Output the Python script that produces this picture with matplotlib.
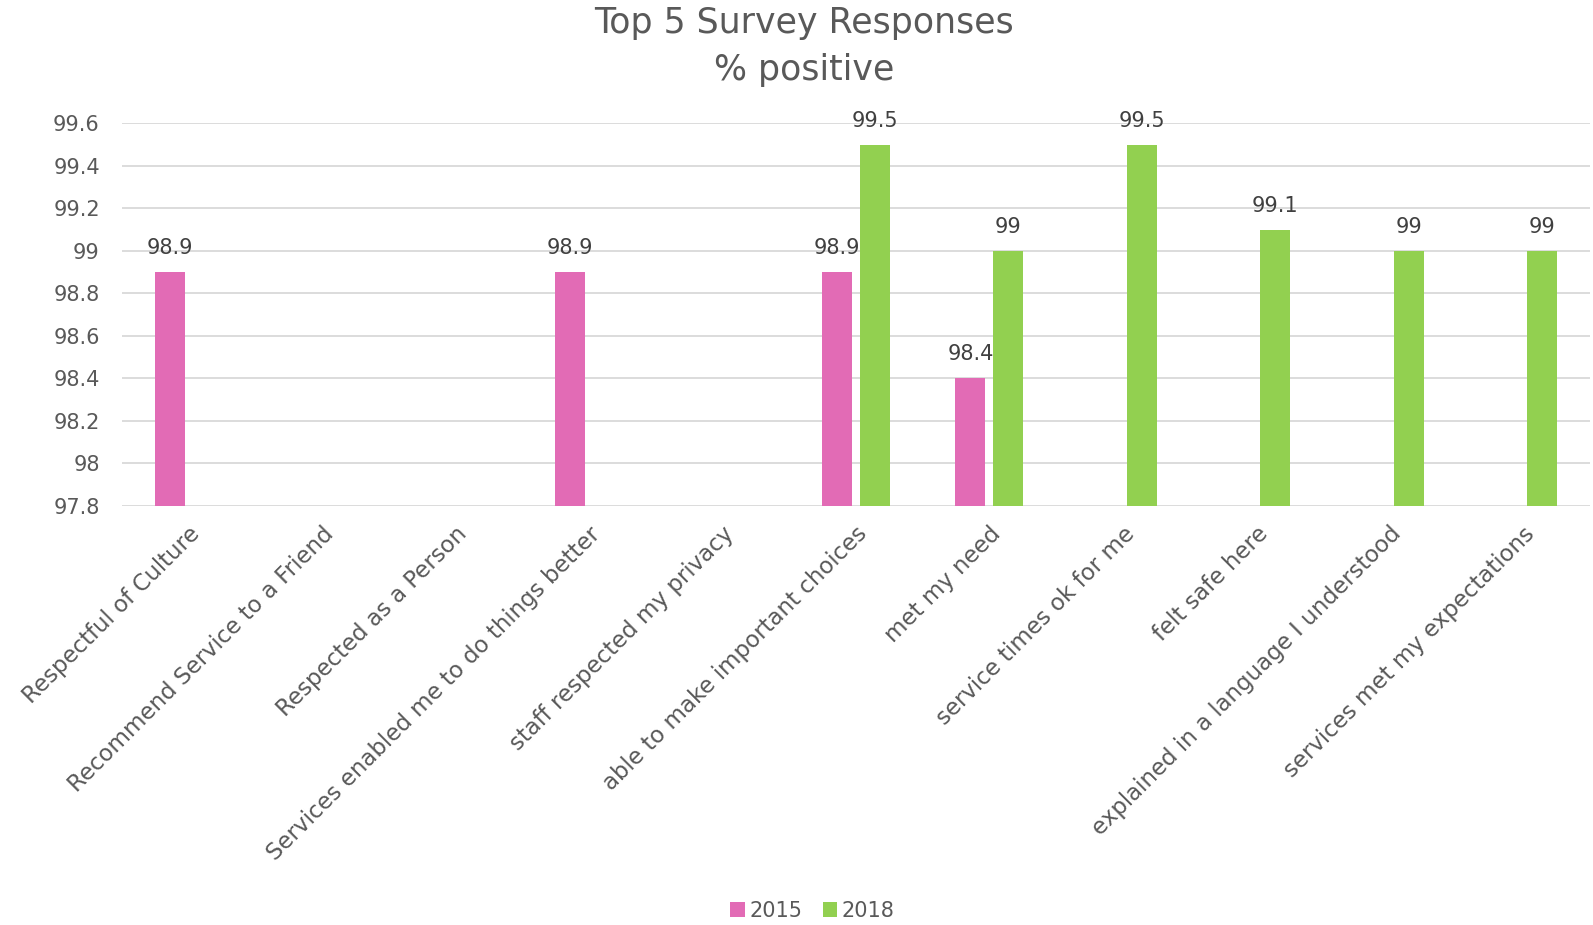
import numpy as np
import matplotlib.pyplot as plt

categories = ["Respectful of Culture", "Recommend Service to a Friend",
              "Respected as a Person", "Services enabled me to do things better",
              "staff respected my privacy", "able to make important choices",
              "met my need", "service times ok for me", "felt safe here",
              "explained in a language I understood", "services met my expectations"]
y2015 = [98.9, np.nan, np.nan, 98.9, np.nan, 98.9, 98.4, np.nan, np.nan, np.nan, np.nan]
y2018 = [np.nan, np.nan, np.nan, np.nan, np.nan, 99.5, 99.0, 99.5, 99.1, 99.0, 99.0]
yticks = [97.8, 98.0, 98.2, 98.4, 98.6, 98.8, 99.0, 99.2, 99.4, 99.6]

pink = "#E26BB5"
green = "#92D050"
txt = "#595959"
plt.rcParams['font.family'] = ['DejaVu Sans']

fig = plt.figure(figsize=(15.93, 9.25), dpi=100)
ax = fig.add_axes([0.0766, 0.4533, 0.9214, 0.4134])

x = np.arange(len(categories))
w = 0.225
off = 0.142
base = yticks[0]
b1 = ax.bar(x - off, np.array(y2015) - base, w, bottom=base, color=pink, label="2015", zorder=3)
b2 = ax.bar(x + off, np.array(y2018) - base, w, bottom=base, color=green, label="2018", zorder=3)

# value labels above each bar
for xs, vals in ((x - off, y2015), (x + off, y2018)):
    for xi, v in zip(xs, vals):
        if np.isnan(v):
            continue
        ax.annotate(f"{v:g}", (xi, v), xytext=(0, 10), textcoords="offset points",
                    ha="center", va="bottom", fontsize=15, color="#404040")

ax.set_xlim(-0.5, len(categories) - 0.5)
ax.set_ylim(yticks[0], yticks[-1])
ax.set_yticks(yticks)
ax.set_yticklabels([f"{t:g}" for t in yticks], fontsize=15, color=txt)
ax.yaxis.grid(True, color="#D9D9D9", linewidth=1.3, zorder=0)
ax.tick_params(axis="both", length=0)
ax.tick_params(axis="y", pad=16)
ax.set_xticks(x)
ax.set_xticklabels(categories, rotation=45, ha="right", rotation_mode="anchor",
                   fontsize=16.5, color=txt)
ax.tick_params(axis="x", pad=12)
for s in ax.spines.values():
    s.set_visible(False)

fig.text(0.505, 0.993, "Top 5 Survey Responses\n% positive", ha="center", va="top",
         fontsize=25, color=txt, linespacing=1.45)

fig.legend(handles=[b1, b2], loc="lower center", bbox_to_anchor=(0.51, -0.016), ncol=2,
           frameon=False, fontsize=15, labelcolor=txt, handlelength=0.7, handleheight=0.7,
           handletextpad=0.2, columnspacing=1.0)

fig.savefig("out.png", dpi=100)
